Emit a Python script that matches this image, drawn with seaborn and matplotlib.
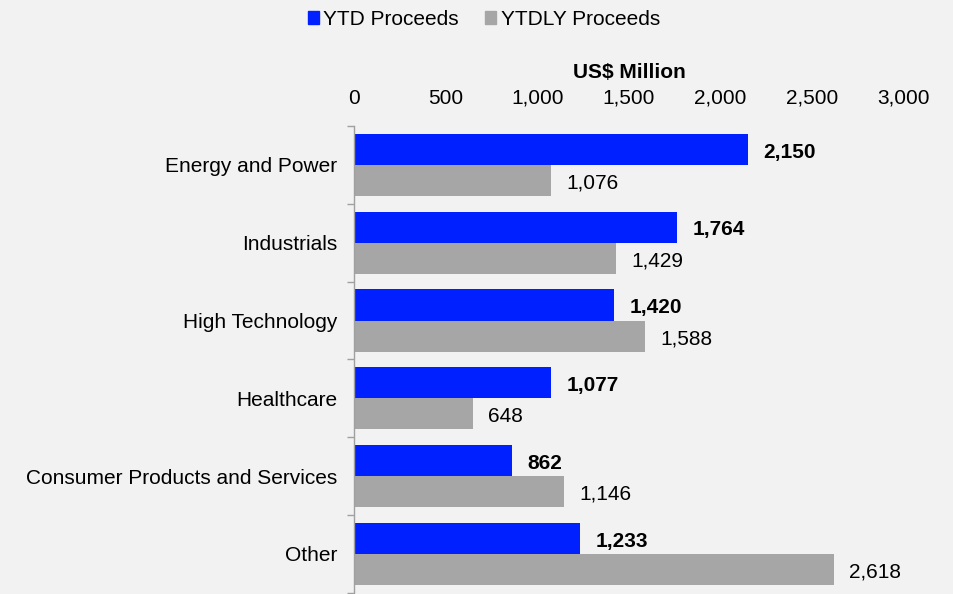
import numpy as np
import pandas as pd
import seaborn as sns
import matplotlib.pyplot as plt
from matplotlib.ticker import FuncFormatter, FixedLocator

sectors = ["Energy and Power", "Industrials", "High Technology", "Healthcare",
           "Consumer Products and Services", "Other"]
ytd = [2150, 1764, 1420, 1077, 862, 1233]
ytdly = [1076, 1429, 1588, 648, 1146, 2618]
series_names = ["YTD Proceeds", "YTDLY Proceeds"]

df = pd.DataFrame({
    "sector": sectors * 2,
    "value": ytd + ytdly,
    "series": [series_names[0]] * len(sectors) + [series_names[1]] * len(sectors),
})

sns.set_theme(style="white")
plt.rcParams["font.family"] = ["Liberation Sans", "DejaVu Sans"]
plt.rcParams["text.color"] = "black"
plt.rcParams["axes.labelcolor"] = "black"
plt.rcParams["xtick.color"] = "black"
plt.rcParams["ytick.color"] = "black"
bg = "#f2f2f2"
fs = 15

fig = plt.figure(figsize=(9.54, 5.94), dpi=100, facecolor=bg)
ax = fig.add_axes([354 / 954, 0.002, 550 / 954, 1 - 126 / 594 - 0.002])
ax.set_facecolor(bg)

sns.barplot(data=df, y="sector", x="value", hue="series", orient="h",
            palette=["#0020ff", "#a6a6a6"], width=0.8, saturation=1,
            linewidth=0, ax=ax, legend=False)

ax.set_xlim(0, 3000)
ax.set_ylim(len(sectors) - 0.5, -0.5)
ax.xaxis.tick_top()
ax.xaxis.set_label_position("top")
ax.xaxis.set_major_formatter(FuncFormatter(lambda v, p: f"{v:,.0f}"))
ax.set_xticks(np.arange(0, 3001, 500))
ax.tick_params(axis="x", length=0, pad=13, labelsize=fs, labelcolor="black")
ax.set_xlabel("US$ Million", fontsize=fs, fontweight="bold", labelpad=8)
ax.set_ylabel("")

ax.tick_params(axis="y", which="major", length=0, pad=12, labelsize=fs,
               labelcolor="black")
ax.yaxis.set_minor_locator(FixedLocator(np.arange(-0.5, len(sectors), 1.0)))
ax.tick_params(axis="y", which="minor", length=5, width=1, color="#a0a0a0",
               direction="out", left=True)

for s in ["top", "right", "bottom"]:
    ax.spines[s].set_visible(False)
ax.spines["left"].set_color("#a0a0a0")
ax.spines["left"].set_linewidth(1)

for i, cont in enumerate(ax.containers):
    texts = ax.bar_label(cont, labels=[f"{v:,.0f}" for v in cont.datavalues],
                         padding=11, fontsize=fs, color="black",
                         fontweight="bold" if i == 0 else "normal")
    for t in texts:
        t.xyann = (11, -2)

handles = [plt.Rectangle((0, 0), 1, 1, color=c) for c in ["#0020ff", "#a6a6a6"]]
fig.legend(handles, series_names, loc="upper center", bbox_to_anchor=(0.507, 1.015),
           ncol=2, frameon=False, fontsize=fs, handlelength=0.55, handleheight=0.55,
           handletextpad=0.2, columnspacing=1.25)

fig.savefig("out.png", dpi=100, facecolor=bg)
